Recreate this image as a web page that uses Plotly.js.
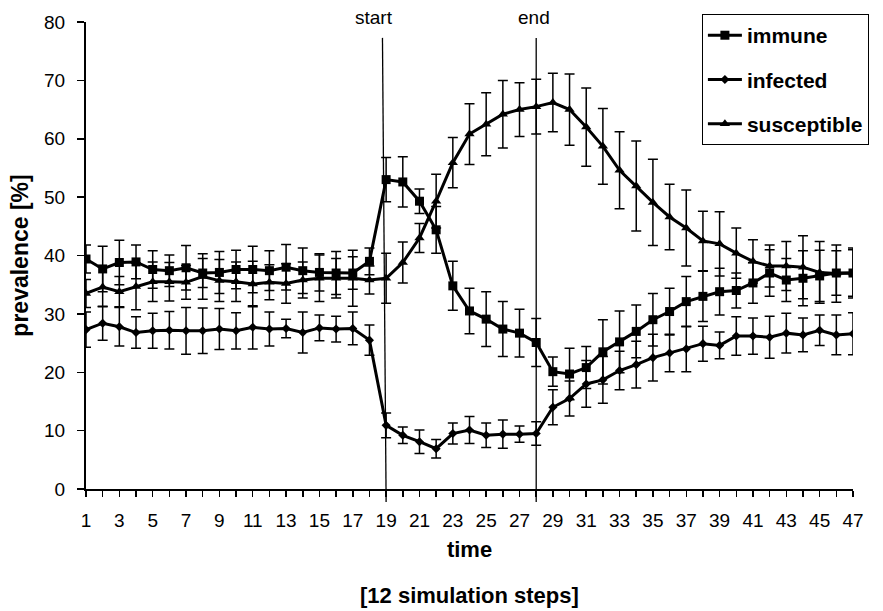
<!DOCTYPE html>
<html>
<head>
<meta charset="utf-8">
<script src="https://cdn.plot.ly/plotly-3.0.1.min.js"></script>
<style>html,body{margin:0;padding:0;background:#fff;}#chart{width:883px;height:611px;}</style>
</head>
<body>
<div id="chart"></div>
<script>
var time = [1,2,3,4,5,6,7,8,9,10,11,12,13,14,15,16,17,18,19,20,21,22,23,24,25,26,27,28,29,30,31,32,33,34,35,36,37,38,39,40,41,42,43,44,45,46,47];

var immune = [39.4,37.7,38.8,38.9,37.6,37.4,37.9,37.0,37.1,37.6,37.6,37.4,38.0,37.4,37.1,37.0,37.0,39.0,53.0,52.6,49.3,44.4,34.8,30.5,29.1,27.4,26.7,25.1,20.1,19.7,20.8,23.5,25.2,27.0,29.0,30.4,32.1,33.0,33.8,34.0,35.3,37.0,35.8,36.1,36.5,37.0,37.0];
var immuneErr = [2.4,3.9,3.8,2.9,3.2,2.7,3.8,2.5,3.6,3.3,4.0,3.4,3.9,3.9,3.2,3.7,2.8,2.3,3.8,4.3,2.1,4.0,4.2,3.9,4.7,4.7,4.1,4.1,2.5,4.4,3.6,5.5,5.3,4.5,4.5,4.0,4.3,4.3,4.0,3.0,3.5,4.0,3.7,4.7,4.4,3.8,4.3];

var infected = [27.3,28.4,27.8,26.8,27.1,27.2,27.1,27.1,27.4,27.1,27.7,27.4,27.5,26.8,27.6,27.4,27.5,25.5,10.9,9.2,8.1,6.9,9.5,10.1,9.2,9.4,9.4,9.5,14.0,15.5,18.0,18.7,20.3,21.3,22.5,23.3,24.0,24.9,24.6,26.2,26.2,26.0,26.7,26.4,27.2,26.4,26.6];
var infectedErr = [3.0,2.9,3.3,2.7,3.0,3.2,4.0,3.9,3.5,3.1,3.7,2.9,1.6,3.5,2.2,2.2,2.8,2.6,2.1,1.4,2.0,1.6,1.8,2.3,2.1,2.4,1.4,2.0,3.0,3.0,4.0,4.0,3.3,4.0,4.0,3.2,3.9,3.0,2.3,3.3,3.1,3.6,3.4,2.9,2.6,3.4,3.6];

var susceptible = [33.5,34.6,33.8,34.7,35.5,35.5,35.4,36.4,35.7,35.5,35.1,35.4,35.2,35.8,36.1,36.1,36.1,35.8,36.1,38.8,43.0,49.3,55.9,60.8,62.5,64.2,65.0,65.5,66.2,65.0,62.0,58.7,54.6,51.9,49.1,46.6,44.7,42.5,42.0,40.4,39.0,38.2,38.2,38.0,37.1,36.9,37.0];
var susceptibleErr = [2.4,3.4,2.6,4.0,3.4,3.3,2.9,3.9,3.6,3.4,3.9,3.0,3.4,3.1,4.0,3.4,4.8,2.4,4.3,3.5,2.5,4.6,4.3,5.2,5.4,5.8,4.6,4.7,5.0,6.1,6.7,6.5,6.6,7.7,7.4,5.6,6.5,5.1,5.5,4.3,3.7,3.6,4.2,5.4,5.3,4.9,4.0];

var yTicks = [0,10,20,30,40,50,60,70,80];
var xTicks = [1,3,5,7,9,11,13,15,17,19,21,23,25,27,29,31,33,35,37,39,41,43,45,47];
var eventLabels = ["start","end"];
var eventTimes = [19,28];
var xTitle = "time";
var xSubTitle = "[12 simulation steps]";
var yTitle = "prevalence [%]";

var FONT = "Liberation Sans, Arial, sans-serif";

function series(name, y, err, symbol, size, group) {
  return {
    x: time, y: y, name: name, type: 'scatter', mode: 'lines+markers',
    legendgroup: group,
    line: {color: '#000', width: 3},
    marker: {symbol: symbol, size: size, color: '#000'},
    error_y: {type: 'data', array: err, visible: true, color: '#000', thickness: 1.5, width: 5}
  };
}

var data = [
  series('immune', immune, immuneErr, 'square', 9, 'a'),
  series('infected', infected, infectedErr, 'diamond', 7, 'b'),
  series('susceptible', susceptible, susceptibleErr, 'triangle-up', 9, 'c')
];

var layout = {
  width: 883, height: 611,
  margin: {l: 86, r: 30, t: 22, b: 122},
  paper_bgcolor: '#fff', plot_bgcolor: '#fff',
  font: {family: FONT, color: '#000', size: 19},
  showlegend: true,
  legend: {
    x: 0.803, y: 1.017, xanchor: 'left', yanchor: 'top',
    bgcolor: '#fff', bordercolor: '#000', borderwidth: 1,
    font: {family: FONT, size: 21, weight: 'bold', color: '#000'},
    traceorder: 'grouped', tracegroupgap: 14, itemwidth: 34
  },
  xaxis: {
    range: [1, 47], tickvals: xTicks, ticktext: xTicks.map(String),
    showgrid: false, zeroline: false,
    showline: true, linecolor: '#000', linewidth: 2,
    ticks: 'outside', ticklen: 6, tickwidth: 1.5, tickcolor: '#000',
    minor: {tickvals: time, ticks: 'outside', ticklen: 6, tickwidth: 1.5, tickcolor: '#000', showgrid: false},
    ticklabelstandoff: 7,
    tickfont: {family: FONT, size: 19, color: '#000'},
    title: {text: xTitle, font: {family: FONT, size: 22, weight: 'bold', color: '#000'}, standoff: 12},
    automargin: false
  },
  yaxis: {
    range: [0, 80], tickvals: yTicks, ticktext: yTicks.map(String),
    showgrid: false, zeroline: false,
    showline: true, linecolor: '#000', linewidth: 2,
    ticks: 'outside', ticklen: 7, tickwidth: 1.5, tickcolor: '#000',
    ticklabelstandoff: 8,
    tickfont: {family: FONT, size: 19, color: '#000'},
    title: {text: yTitle, font: {family: FONT, size: 23, weight: 'bold', color: '#000'}, standoff: 9},
    automargin: false
  },
  shapes: [
    {type: 'line', xref: 'x', yref: 'paper', x0: eventTimes[0], x1: eventTimes[0] - 0.22, y0: -0.028, y1: 0.966, line: {color: '#000', width: 1.3}},
    {type: 'line', xref: 'x', yref: 'paper', x0: eventTimes[1], x1: eventTimes[1], y0: -0.028, y1: 0.966, line: {color: '#000', width: 1.3}}
  ],
  annotations: [
    {text: eventLabels[0], xref: 'x', yref: 'paper', x: eventTimes[0] - 0.72, y: 1.0086, xanchor: 'center', yanchor: 'middle', showarrow: false, font: {family: FONT, size: 19, color: '#000'}},
    {text: eventLabels[1], xref: 'x', yref: 'paper', x: eventTimes[1] - 0.15, y: 1.0086, xanchor: 'center', yanchor: 'middle', showarrow: false, font: {family: FONT, size: 19, color: '#000'}},
    {text: xSubTitle, xref: 'paper', yref: 'paper', x: 0.5, y: -0.229, xanchor: 'center', yanchor: 'middle', showarrow: false, font: {family: FONT, size: 22, weight: 'bold', color: '#000'}}
  ]
};

Plotly.newPlot('chart', data, layout, {displayModeBar: false, staticPlot: true});
</script>
</body>
</html>
